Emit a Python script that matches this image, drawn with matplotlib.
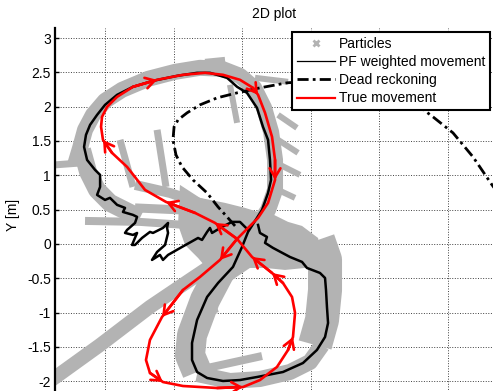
import matplotlib.pyplot as plt
from matplotlib.lines import Line2D

plt.rcParams['font.family'] = ['Liberation Sans', 'DejaVu Sans']

# true movement (figure 8), starts at the crossing and goes up-left
true_x = [-0.036, -0.197, -0.343, -0.555, -0.708, -0.839, -0.949, -1.015, -1.029, -1.022,
          -0.985, -0.912, -0.796, -0.620, -0.431, -0.270, -0.139, -0.015, 0.080, 0.117,
          0.168, 0.219, 0.241, 0.241, 0.190, 0.117, -0.036, -0.161, -0.307, -0.431,
          -0.584, -0.672, -0.701, -0.672, -0.577, -0.431, -0.182, 0.007, 0.131, 0.255,
          0.336, 0.372, 0.387, 0.365, 0.299, 0.219, 0.073, -0.036]
true_y = [0.073, 0.306, 0.452, 0.612, 0.787, 1.122, 1.327, 1.516, 1.706, 1.851,
          1.997, 2.143, 2.289, 2.391, 2.464, 2.493, 2.464, 2.391, 2.274, 2.172,
          1.910, 1.560, 1.224, 0.933, 0.598, 0.379, 0.073, -0.233, -0.481, -0.671,
          -1.064, -1.399, -1.691, -1.880, -2.012, -2.070, -2.099, -2.085, -1.983, -1.793,
          -1.545, -1.356, -1.006, -0.773, -0.569, -0.423, -0.190, 0.073]
# indices of the direction arrows on the true path
arrow_idx = [1, 3, 7, 13, 19, 23, 27, 30, 34, 37, 41, 45, 46]

# particle filter estimate
pf_x = [0.044, -0.015, -0.073, -0.146, -0.219, -0.234, -0.255, -0.292, -0.321, -0.438,
        -0.540, -0.577, -0.599, -0.657, -0.620, -0.562, -0.540, -0.547, -0.540, -0.577,
        -0.650, -0.672, -0.730, -0.781, -0.803, -0.766, -0.796, -0.854, -0.839, -0.781,
        -0.766, -0.796, -0.869, -0.854, -0.912, -0.964, -1.000, -1.058, -1.036, -1.036,
        -1.036, -1.073, -1.131, -1.153, -1.139, -1.109, -1.058, -1.000, -0.912, -0.796,
        -0.650, -0.474, -0.328, -0.234, -0.109, -0.036, 0.036, 0.109, 0.153, 0.190,
        0.204, 0.212, 0.190, 0.146, 0.044, 0.000, -0.066, -0.175, -0.255, -0.328,
        -0.365, -0.365, -0.328, -0.255, -0.139, -0.015, 0.109, 0.299, 0.445, 0.547,
        0.606, 0.628, 0.620, 0.613, 0.606, 0.569, 0.474, 0.438, 0.350, 0.226,
        0.168, 0.182, 0.131, 0.117]
pf_y = [0.204, 0.321, 0.321, 0.248, 0.160, 0.233, 0.175, 0.058, 0.087, -0.044,
        -0.160, -0.233, -0.160, -0.233, -0.117, -0.015, 0.160, 0.233, 0.306, 0.233,
        0.160, 0.175, 0.087, -0.015, -0.015, 0.160, 0.131, 0.160, 0.204, 0.306,
        0.394, 0.423, 0.466, 0.525, 0.569, 0.671, 0.641, 0.714, 0.831, 0.933,
        1.006, 1.079, 1.224, 1.414, 1.589, 1.735, 1.880, 2.026, 2.172, 2.289,
        2.376, 2.449, 2.493, 2.493, 2.420, 2.289, 2.201, 1.983, 1.706, 1.516,
        1.224, 0.933, 0.743, 0.496, 0.175, -0.044, -0.335, -0.569, -0.773, -1.108,
        -1.443, -1.691, -1.866, -1.953, -1.997, -1.983, -1.939, -1.866, -1.735, -1.545,
        -1.356, -1.152, -0.918, -0.671, -0.496, -0.423, -0.350, -0.262, -0.190, -0.058,
        0.015, 0.102, 0.160, 0.277]

# dead reckoning
dr_x = [-0.051, -0.109, -0.175, -0.255, -0.358, -0.438, -0.482, -0.504, -0.496, -0.467,
        -0.401, -0.307, -0.182, -0.036, 0.131, 0.328, 0.642, 0.934, 1.153, 1.277,
        1.394, 1.540, 1.686, 1.825, 1.920]
dr_y = [0.262, 0.394, 0.539, 0.743, 0.933, 1.122, 1.297, 1.516, 1.706, 1.808,
        1.910, 2.026, 2.128, 2.201, 2.274, 2.347, 2.391, 2.274, 2.143, 2.026,
        1.851, 1.618, 1.268, 0.860, 0.598]

# particle clouds, read as bands (x list, y list, width in px)
particle_bands = [
    ([-1.219, -1.182, -1.146, -1.088, -1.000, -0.876, -0.686, -0.489, -0.307, -0.146,
      -0.015, 0.088, 0.161, 0.212, 0.241, 0.241, 0.190, 0.095],
     [1.152, 1.399, 1.662, 1.880, 2.085, 2.245, 2.405, 2.507, 2.566, 2.551,
      2.449, 2.274, 1.983, 1.633, 1.224, 0.787, 0.496, 0.204], 16),
    ([-1.168, -1.124, -1.058, -0.964, -0.832, -0.745],
     [1.370, 1.050, 0.787, 0.598, 0.466, 0.379], 18),
    ([-1.365, -1.168], [1.152, 1.181], 7),
    ([-0.891, -0.796], [1.516, 0.831], 7),
    ([-0.620, -0.555], [1.662, 0.831], 7),
    ([-0.781, -0.526, -0.270, -0.051], [0.860, 0.743, 0.569, 0.321], 10),
    ([-1.146, -0.745, -0.307, -0.051], [0.335, 0.321, 0.262, 0.175], 8),
    ([-0.781, -0.453, -0.124, 0.095], [0.525, 0.496, 0.423, 0.379], 9),
    ([0.263, 0.401], [1.880, 1.691], 6),
    ([0.263, 0.409], [1.516, 1.327], 6),
    ([0.277, 0.423], [1.152, 1.006], 6),
    ([0.263, 0.387], [0.787, 0.671], 6),
    ([0.095, 0.336], [2.420, 2.362], 6),
    ([-0.270, -0.124], [2.653, 2.682], 6),
    ([-0.088, -0.036], [2.318, 1.764], 6),
    ([-0.124, -0.270, -0.365, -0.380, -0.328], [-0.262, -0.816, -1.327, -1.618, -1.866], 30),
    ([-0.328, -0.088, 0.131, 0.350, 0.496, 0.584], [-1.895, -1.997, -1.968, -1.866, -1.720, -1.472], 16),
    ([0.555, 0.606, 0.606, 0.584, 0.533], [0.058, -0.233, -0.671, -1.108, -1.472], 34),
    ([-1.401, -1.036, -0.672, -0.380, -0.161], [-1.997, -1.472, -0.918, -0.525, -0.233], 14),
    ([-0.255, 0.146], [-1.808, -1.633], 8),
    ([-0.234, -0.190], [-0.773, -1.006], 6),
]
# dense particle mass around the crossing
blob_x = [-0.453, -0.307, -0.124, 0.022, 0.117, 0.219, 0.336, 0.438, 0.555, 0.591,
          0.460, 0.314, 0.168, 0.058, -0.051, -0.161, -0.234, -0.321, -0.416, -0.467]
blob_y = [0.860, 0.671, 0.598, 0.525, 0.466, 0.437, 0.321, 0.262, 0.087, -0.262,
          -0.350, -0.379, -0.350, -0.350, -0.496, -0.671, -0.408, -0.204, -0.015, 0.277]

grid_x = [-1, -0.5, 0, 0.5, 1, 1.5]
grid_y = [-2, -1.5, -1, -0.5, 0, 0.5, 1, 1.5, 2, 2.5, 3]

gray = '#b3b3b3'
dashdot = (0, (4, 1.5, 1, 1.5))
fig = plt.figure(figsize=(4.93, 3.91), dpi=100)
ax = fig.add_axes([0.1116, -0.0276, 0.8884, 0.956])

for bx, by, w in particle_bands:
    ax.plot(bx, by, color=gray, lw=w * 0.72, solid_capstyle='butt',
            solid_joinstyle='round', zorder=1)
ax.fill(blob_x, blob_y, color=gray, lw=0, zorder=1)

ax.plot(dr_x, dr_y, color='black', lw=2, ls=dashdot, zorder=2)
ax.plot(pf_x, pf_y, color='black', lw=1.8, zorder=3)
ax.plot(true_x, true_y, color='red', lw=1.9, zorder=4)
for i in arrow_idx:
    ax.annotate('', xy=(true_x[i], true_y[i]), xytext=(true_x[i - 1], true_y[i - 1]),
                arrowprops=dict(arrowstyle='->,head_length=0.5,head_width=0.3',
                                color='red', lw=1.9, shrinkA=0, shrinkB=0,
                                mutation_scale=13), zorder=5)

ax.set_xlim(-1.365, 1.832)
ax.set_ylim(-2.3, 3.146)
ax.set_xticks(grid_x)
ax.set_yticks(grid_y)
ax.set_yticklabels(['-2', '-1.5', '-1', '-0.5', '0', '0.5', '1', '1.5', '2', '2.5', '3'])
ax.grid(True, ls=':', color='#404040', lw=0.7)
ax.set_axisbelow(True)
for s in ['top', 'right', 'bottom']:
    ax.spines[s].set_visible(False)
ax.spines['left'].set_linewidth(1.6)
ax.tick_params(axis='y', direction='in', length=3, width=1, labelsize=10, pad=3)
ax.tick_params(axis='x', length=0, labelbottom=False)

ax.set_title('2D plot', fontsize=10, pad=7)
ax.set_ylabel('Y [m]', fontsize=10)
ax.yaxis.set_label_coords(-0.08, 0.5)

handles = [
    Line2D([], [], ls='none', marker='x', color=gray, ms=5, mew=2),
    Line2D([], [], color='black', lw=0.9),
    Line2D([], [], color='black', lw=2, ls=dashdot),
    Line2D([], [], color='red', lw=1.6),
]
labels = ['Particles', 'PF weighted movement', 'Dead reckoning', 'True movement']
leg = ax.legend(handles, labels, loc='upper right', bbox_to_anchor=(490 / 493, 1 - 32 / 391),
                bbox_transform=fig.transFigure, borderaxespad=0, fontsize=10,
                fancybox=False, framealpha=1, edgecolor='black', handlelength=2.7,
                handletextpad=0.3, labelspacing=0.3, borderpad=0.35)
leg.get_frame().set_linewidth(1.5)
leg.set_zorder(10)

fig.savefig('out.png', dpi=100)
